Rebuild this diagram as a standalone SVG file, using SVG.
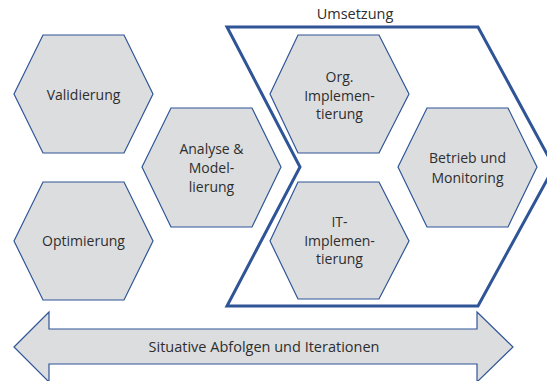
<svg xmlns="http://www.w3.org/2000/svg" width="547" height="381" viewBox="0 0 547 381">
<style>
.hex{fill:#dcdddf;stroke:#2f5597;stroke-width:1.2}
.t{font-family:"Open Sans","Liberation Sans",sans-serif;font-size:14px;fill:#2e2e2e;text-anchor:middle}
.chev{fill:none;stroke:#2f5597;stroke-width:3}
</style>
<rect width="547" height="381" fill="#ffffff"/>
<g id="umsetzung">
<polygon class="chev" points="227,27 478,27 554,167 478,306 227,306 300,167"/>
<text class="t" x="355" y="19" style="font-size:14.5px">Umsetzung</text>
</g>
<g id="connectors">
<polygon class="hex" points="14,347 49,312 49,329 477,329 477,312 513,347 477,382 477,364 49,364 49,382"/>
<text class="t" x="264" y="352" style="font-size:14.5px">Situative Abfolgen und Iterationen</text>
</g>
<g id="validierung">
<polygon class="hex" points="14,94 43,35 124,35 153,94 124,153 43,153"/>
<text class="t" x="83.5" y="100">Validierung</text>
</g>
<g id="optimierung">
<polygon class="hex" points="14,241 43,182 124,182 153,241 124,300 43,300"/>
<text class="t" x="83.5" y="246">Optimierung</text>
</g>
<g id="analyse">
<polygon class="hex" points="142,167 171,108 252,108 281,167 252,227 171,227"/>
<text class="t" x="211.5" y="154">Analyse &amp;</text>
<text class="t" x="211.5" y="173">Model-</text>
<text class="t" x="211.5" y="192">lierung</text>
</g>
<g id="org">
<polygon class="hex" points="270,94 298,35 379,35 409,94 379,153 298,153"/>
<text class="t" x="339.5" y="82">Org.</text>
<text class="t" x="339.5" y="101">Implemen-</text>
<text class="t" x="339.5" y="119">tierung</text>
</g>
<g id="it">
<polygon class="hex" points="270,241 298,182 379,182 409,241 379,299 298,299"/>
<text class="t" x="339.5" y="227">IT-</text>
<text class="t" x="339.5" y="246">Implemen-</text>
<text class="t" x="339.5" y="264">tierung</text>
</g>
<g id="betrieb">
<polygon class="hex" points="398,167 427,108 508,108 537,167 508,227 427,227"/>
<text class="t" x="467.5" y="163">Betrieb und</text>
<text class="t" x="467.5" y="183">Monitoring</text>
</g>
</svg>
